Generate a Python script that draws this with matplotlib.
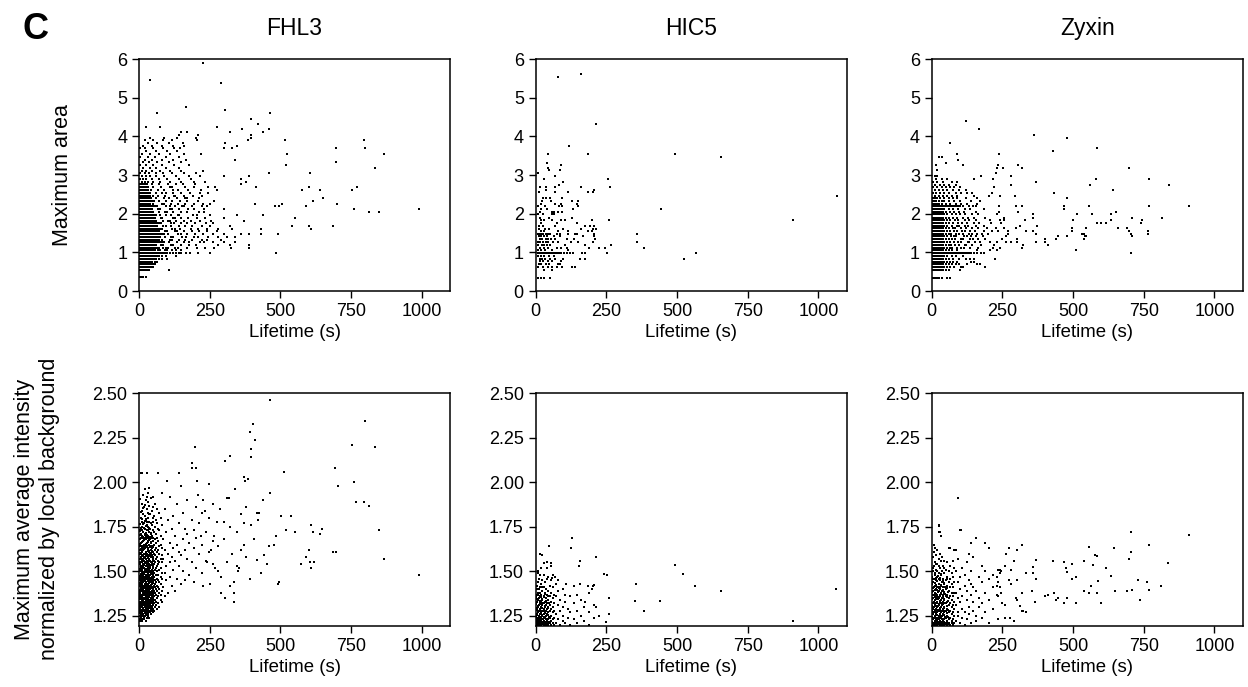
import matplotlib
matplotlib.use("Agg")
import matplotlib.pyplot as plt

plt.rcParams['font.family'] = ['Liberation Sans', 'DejaVu Sans']

proteins = ["FHL3", "HIC5", "Zyxin"]

# ---- top row: maximum area, one list of lifetimes (s) per area level ----
fhl3_area_levels = [0.35, 0.55, 0.62, 0.69, 0.76, 0.83, 0.90, 0.98, 1.05, 1.12, 1.19, 1.26, 1.33, 1.40,
                    1.47, 1.54, 1.61, 1.68, 1.75, 1.82, 1.90, 1.97, 2.05, 2.12, 2.19, 2.26, 2.33, 2.40,
                    2.47, 2.54, 2.61, 2.69, 2.76, 2.83, 2.90, 2.97, 3.04, 3.11, 3.19, 3.26, 3.33, 3.40,
                    3.47, 3.54, 3.61, 3.69, 3.76, 3.82, 3.90, 3.97, 4.04, 4.11, 4.18, 4.25, 4.32, 4.46,
                    4.61, 4.68, 4.75, 5.39, 5.46, 5.89]
fhl3_area_rows = [
    [5, 10, 15, 25],
    [5, 10, 15, 20, 25, 30, 35, 105],
    [5, 10, 15, 20, 25, 30, 35, 40, 45, 50],
    [5, 10, 15, 20, 25, 30, 35, 40, 45, 50, 55],
    [5, 10, 15, 20, 25, 30, 35, 40, 45, 55, 65],
    [5, 10, 15, 20, 25, 30, 35, 40, 45, 50, 55, 60, 70, 80, 100],
    [5, 10, 15, 20, 25, 30, 35, 40, 45, 50, 55, 60, 65, 70, 80, 95, 130],
    [5, 10, 15, 20, 25, 30, 35, 40, 45, 50, 55, 60, 65, 70, 75, 80, 85, 90, 95, 100, 110, 120, 130,
     140, 150, 165, 180, 210, 250, 485],
    [5, 10, 15, 20, 25, 30, 35, 40, 45, 50, 55, 68, 74, 91, 99, 118, 131, 150],
    [5, 10, 15, 20, 25, 30, 35, 40, 45, 50, 55, 60, 65, 70, 86, 97, 104, 126, 139, 168, 205, 235, 265,
     325, 390],
    [5, 10, 15, 20, 25, 30, 35, 40, 45, 50, 55, 60, 79, 84, 112, 121, 149, 178, 200, 280, 320, 390],
    [5, 10, 15, 20, 25, 30, 35, 40, 45, 50, 55, 60, 65, 70, 75, 80, 88, 107, 133, 160, 176, 214, 230,
     260, 300, 340],
    [5, 10, 15, 20, 25, 30, 35, 40, 45, 50, 55, 60, 65, 70, 81, 109, 116, 143, 162, 189, 221, 240, 290],
    [5, 10, 15, 20, 25, 30, 35, 40, 45, 50, 55, 60, 65, 70, 75, 93, 112, 121, 152, 166, 193, 208, 245,
     280, 310, 340],
    [5, 10, 15, 20, 25, 30, 35, 40, 45, 50, 55, 60, 65, 70, 75, 80, 89, 104, 137, 149, 171, 199, 225,
     260, 300, 360, 390, 430, 490],
    [5, 10, 15, 20, 25, 30, 35, 40, 45, 50, 55, 60, 65, 70, 91, 98, 127, 133, 158, 187, 212, 242, 275],
    [5, 10, 15, 20, 25, 30, 35, 40, 45, 50, 55, 60, 65, 70, 75, 83, 117, 128, 146, 183, 209, 239, 280,
     330, 430, 608],
    [5, 10, 15, 20, 25, 30, 35, 40, 45, 50, 55, 60, 65, 86, 94, 113, 141, 163, 188, 224, 250, 320, 540,
     600, 685],
    [5, 10, 15, 20, 25, 30, 35, 40, 45, 50, 55, 60, 65, 70, 79, 112, 124, 147, 171, 197, 236, 260],
    [5, 10, 15, 20, 25, 30, 35, 40, 45, 50, 55, 60, 84, 101, 109, 131, 158, 183, 214, 255, 370],
    [5, 10, 15, 20, 25, 30, 35, 40, 45, 50, 55, 77, 83, 119, 127, 149, 172, 204, 233, 300, 550],
    [5, 10, 15, 20, 25, 30, 35, 40, 45, 50, 55, 60, 73, 96, 114, 137, 143, 191, 206, 250, 345, 440],
    [5, 10, 15, 20, 25, 30, 35, 40, 45, 50, 72, 92, 98, 121, 149, 168, 212, 230, 815, 850],
    [5, 10, 15, 20, 25, 30, 35, 40, 45, 67, 73, 109, 118, 143, 172, 196, 231, 300, 760, 990],
    [5, 10, 15, 20, 25, 30, 35, 40, 45, 50, 55, 63, 97, 108, 127, 152, 159, 188, 222, 240, 480, 495,
     590],
    [5, 10, 15, 20, 25, 30, 35, 40, 48, 82, 89, 113, 137, 161, 196, 228, 250, 410, 505, 700],
    [5, 10, 15, 20, 25, 30, 35, 40, 45, 53, 72, 97, 117, 146, 171, 207, 265, 615],
    [5, 10, 15, 20, 25, 30, 35, 43, 61, 88, 107, 134, 163, 171, 211, 650],
    [5, 10, 15, 20, 25, 30, 35, 40, 48, 67, 92, 122, 129, 158, 191, 224],
    [5, 10, 15, 20, 25, 30, 38, 59, 83, 94, 121, 148, 181, 217, 245],
    [5, 10, 15, 20, 25, 30, 43, 66, 87, 121, 139, 173, 218, 275, 575, 640, 755],
    [5, 10, 15, 20, 25, 33, 51, 77, 108, 117, 162, 196, 243, 270, 415, 600, 770],
    [5, 10, 15, 20, 28, 47, 71, 103, 132, 154, 197, 360],
    [10, 20, 30, 50, 75, 110, 150, 195, 235, 380],
    [5, 15, 25, 45, 70, 100, 140, 185, 360],
    [10, 25, 40, 60, 90, 130, 175, 215, 300, 390],
    [5, 20, 35, 60, 85, 115, 160, 200, 460, 605],
    [10, 25, 45, 75, 110, 150, 225],
    [15, 40, 60, 95, 140, 835],
    [5, 25, 50, 80, 125, 175, 520],
    [15, 35, 65, 105, 150, 695],
    [20, 45, 80, 120, 165, 340],
    [5, 30, 55, 95, 140],
    [10, 40, 70, 110, 160, 220, 525, 867],
    [25, 60, 100, 135],
    [5, 20, 50, 85, 125, 145, 300, 330, 695, 800],
    [15, 45, 80, 120, 160, 345],
    [30, 65, 105, 155, 305],
    [20, 50, 85, 115, 205, 385, 515, 795],
    [40, 90, 135, 200, 395],
    [140, 210, 395],
    [150, 170, 320, 440],
    [365, 460],
    [25, 75, 275],
    [420],
    [395],
    [65, 465],
    [305],
    [165],
    [290],
    [40],
    [225],
]

hic5_area_levels = [0.34, 0.55, 0.62, 0.70, 0.77, 0.84, 0.91, 0.98, 1.05, 1.12, 1.20, 1.27, 1.34, 1.41,
                    1.48, 1.55, 1.61, 1.69, 1.76, 1.83, 1.90, 1.98, 2.05, 2.12, 2.19, 2.26, 2.33, 2.40,
                    2.47, 2.55, 2.62, 2.69, 2.75, 2.83, 2.90, 2.97, 3.04, 3.12, 3.19, 3.26, 3.32, 3.47,
                    3.54, 3.75, 4.32, 5.54, 5.60]
hic5_area_rows = [
    [9, 19, 31, 52],
    [31, 59],
    [9, 27, 43, 57, 74, 93, 130, 139],
    [12, 20, 35, 47, 78, 86],
    [15, 25, 43, 57, 90],
    [15, 22, 33, 50, 69, 95, 157, 175, 524],
    [7, 20, 30, 47, 64],
    [7, 12, 17, 22, 27, 32, 37, 42, 47, 52, 57, 62, 67, 72, 77, 82, 90, 100, 110, 120, 131, 163, 175,
     252, 567],
    [9, 20, 33, 59, 116],
    [15, 30, 45, 77, 90, 110, 190, 225, 246, 385],
    [7, 21, 30, 40, 51, 105, 175, 265],
    [9, 15, 27, 35, 45, 60, 80, 125, 149, 203, 357],
    [14, 22, 35, 45, 53, 70, 112, 136, 210],
    [13, 20, 31, 40, 64, 85, 168, 206],
    [9, 15, 20, 27, 38, 45, 51, 74, 86, 116, 139, 148, 206, 357],
    [19, 30, 80, 115, 184, 199],
    [12, 32, 46, 98, 162, 204, 215],
    [11, 27, 70, 176, 191, 207],
    [20, 77, 148],
    [18, 31, 57, 90, 104, 200, 260, 912],
    [15, 46, 130],
    [8, 27, 57, 66],
    [17, 57, 66, 80, 93],
    [19, 39, 131, 442],
    [7, 32, 83, 93, 150],
    [18, 67, 89, 145],
    [21, 56, 128, 150],
    [27, 38, 52, 93],
    [1065],
    [12, 69, 113, 186, 202],
    [38, 207],
    [14, 37, 69, 160, 262],
    [84],
    [97],
    [30, 255],
    [70],
    [9],
    [47, 87],
    [45],
    [91],
    [40],
    [656],
    [45, 186, 494],
    [118],
    [214],
    [79],
    [160],
]

zyxin_area_levels = [0.34, 0.55, 0.62, 0.69, 0.76, 0.83, 0.90, 0.98, 1.05, 1.12, 1.20, 1.27, 1.34, 1.41,
                     1.48, 1.55, 1.62, 1.69, 1.76, 1.83, 1.90, 1.98, 2.05, 2.12, 2.19, 2.26, 2.33, 2.40,
                     2.47, 2.54, 2.61, 2.69, 2.75, 2.82, 2.90, 2.97, 3.04, 3.12, 3.19, 3.26, 3.32, 3.40,
                     3.47, 3.54, 3.61, 3.69, 3.83, 3.96, 4.04, 4.18, 4.40]
zyxin_area_rows = [
    [5, 10, 15, 20, 25, 35, 55, 65],
    [5, 10, 15, 20, 25, 30, 35, 40, 50, 60, 100],
    [5, 10, 15, 20, 25, 30, 35, 40, 45, 55, 65, 80, 105, 110, 190],
    [5, 10, 15, 20, 25, 30, 35, 40, 50, 60, 70, 85, 95, 125, 160, 170],
    [5, 10, 15, 20, 25, 30, 35, 40, 45, 55, 65, 75, 90, 140, 150],
    [5, 10, 15, 20, 25, 30, 35, 40, 50, 60, 75, 95, 120, 135, 150, 225],
    [5, 10, 15, 20, 25, 30, 35, 40, 45, 55, 70, 85, 110],
    [5, 10, 15, 20, 25, 30, 35, 40, 45, 50, 55, 60, 65, 70, 75, 80, 85, 90, 95, 100, 105, 110, 115,
     120, 125, 130, 140, 150, 160, 175, 185, 706],
    [5, 10, 15, 20, 25, 30, 35, 40, 50, 60, 70, 90, 160, 205, 229, 510],
    [5, 10, 15, 20, 25, 30, 35, 40, 45, 55, 66, 73, 88, 102, 113, 134, 165, 215, 241, 320],
    [5, 10, 15, 20, 25, 30, 35, 40, 50, 61, 68, 83, 96, 117, 122, 143, 175, 220, 321, 412],
    [5, 10, 15, 20, 25, 30, 35, 40, 45, 55, 64, 77, 92, 104, 127, 131, 152, 170, 205, 230, 262, 280,
     301, 370, 402],
    [5, 10, 15, 20, 25, 30, 35, 40, 50, 60, 72, 81, 103, 112, 136, 147, 163, 190, 250, 302, 402, 438,
     537],
    [5, 10, 15, 20, 25, 30, 35, 40, 45, 55, 67, 78, 87, 114, 123, 138, 158, 180, 264, 447, 479, 543,
     547, 709],
    [5, 10, 15, 20, 25, 30, 35, 40, 50, 60, 69, 84, 98, 111, 133, 142, 161, 176, 198, 268, 369, 533,
     540, 706, 764],
    [5, 10, 15, 20, 25, 30, 35, 40, 45, 55, 63, 79, 91, 107, 119, 137, 154, 185, 213, 235, 268, 335,
     359, 497, 697, 764],
    [5, 10, 15, 20, 25, 30, 35, 40, 50, 60, 74, 82, 104, 121, 143, 162, 196, 226, 257, 298, 497, 546,
     660, 689],
    [5, 10, 15, 20, 25, 30, 35, 40, 45, 55, 71, 88, 97, 116, 128, 157, 186, 312, 373],
    [5, 10, 15, 20, 25, 30, 35, 40, 50, 60, 76, 93, 108, 126, 148, 168, 210, 246, 586, 598, 617, 741],
    [5, 10, 15, 20, 25, 30, 35, 40, 45, 55, 65, 81, 94, 117, 132, 156, 205, 241, 254, 331, 499, 633,
     742],
    [5, 10, 15, 20, 25, 30, 35, 40, 50, 60, 74, 89, 112, 128, 151, 190, 257, 357, 707, 814],
    [5, 10, 15, 20, 25, 30, 35, 45, 55, 71, 86, 101, 118, 141, 163, 230, 358, 513, 566, 634],
    [5, 10, 15, 20, 25, 30, 35, 40, 50, 66, 79, 96, 114, 155, 237, 305, 652],
    [5, 10, 15, 20, 25, 30, 35, 45, 60, 76, 94, 116, 136, 185, 467],
    [5, 10, 15, 20, 25, 30, 35, 40, 45, 50, 55, 60, 65, 70, 75, 80, 85, 90, 95, 100, 110, 130, 145,
     158, 238, 299, 318, 468, 557, 768, 911],
    [5, 10, 15, 20, 25, 35, 50, 65, 85, 105, 125, 160],
    [5, 10, 15, 25, 35, 45, 60, 80, 100, 140, 170],
    [5, 10, 20, 30, 45, 60, 75, 90, 120, 160, 478],
    [10, 25, 40, 55, 70, 90, 150, 202, 240, 296],
    [5, 15, 30, 45, 60, 85, 105, 125, 144, 213, 433],
    [10, 25, 40, 55, 75, 95, 120, 642],
    [5, 20, 35, 50, 65, 80, 100, 220],
    [10, 30, 45, 60, 85, 281, 558, 840],
    [5, 20, 40, 70, 90, 370],
    [15, 35, 55, 150, 215, 581, 769],
    [12, 17, 175, 280],
    [227],
    [17],
    [229, 253, 320, 697],
    [15, 110, 235, 304],
    [50],
    [94],
    [25, 36],
    [89, 237],
    [430],
    [586],
    [64],
    [478],
    [363],
    [167],
    [120],
]

# ---- bottom row: normalized intensity, one list of values per lifetime column ----
fhl3_int_t = [3, 6, 9, 12, 15, 18, 21, 24, 27, 30, 33, 36, 39, 42, 45, 48, 51, 54, 57, 60, 64, 68, 72,
              76, 80, 86, 91, 97, 102, 108, 115, 121, 128, 134, 141, 148, 156, 163, 171, 178, 186, 194,
              203, 212, 224, 236, 248, 263, 281]
fhl3_int_cols = [
    [1.22, 1.25, 1.29, 1.30, 1.33, 1.37, 1.38, 1.42, 1.45, 1.46, 1.50, 1.54, 1.57, 1.62, 1.68, 1.73],
    [1.24, 1.26, 1.28, 1.32, 1.35, 1.36, 1.40, 1.41, 1.44, 1.48, 1.51, 1.53, 1.58, 1.60, 1.66, 1.71, 1.80, 2.05],
    [1.23, 1.27, 1.31, 1.33, 1.34, 1.39, 1.43, 1.44, 1.47, 1.49, 1.52, 1.56, 1.59, 1.64, 1.69, 1.78, 1.84],
    [1.22, 1.25, 1.28, 1.30, 1.36, 1.37, 1.41, 1.42, 1.46, 1.50, 1.51, 1.55, 1.61, 1.63, 1.70, 1.75, 1.88, 2.05],
    [1.26, 1.29, 1.31, 1.34, 1.35, 1.38, 1.40, 1.44, 1.45, 1.48, 1.53, 1.54, 1.57, 1.62, 1.67, 1.72, 1.82, 1.93],
    [1.23, 1.24, 1.28, 1.32, 1.33, 1.37, 1.39, 1.42, 1.47, 1.49, 1.52, 1.56, 1.60, 1.65, 1.69, 1.77, 1.86],
    [1.25, 1.27, 1.30, 1.31, 1.35, 1.38, 1.41, 1.43, 1.45, 1.50, 1.51, 1.55, 1.58, 1.63, 1.71, 1.74, 1.81, 1.96],
    [1.22, 1.26, 1.29, 1.33, 1.34, 1.36, 1.40, 1.44, 1.46, 1.48, 1.53, 1.57, 1.61, 1.64, 1.68, 1.79, 1.90],
    [1.24, 1.28, 1.30, 1.32, 1.37, 1.39, 1.42, 1.43, 1.47, 1.51, 1.54, 1.56, 1.60, 1.66, 1.73, 1.76, 1.85, 2.05],
    [1.25, 1.27, 1.31, 1.34, 1.36, 1.38, 1.41, 1.45, 1.49, 1.50, 1.52, 1.58, 1.62, 1.67, 1.70, 1.83, 1.94],
    [1.26, 1.29, 1.33, 1.35, 1.37, 1.40, 1.43, 1.46, 1.48, 1.53, 1.55, 1.59, 1.63, 1.69, 1.75, 1.80, 1.89],
    [1.24, 1.28, 1.30, 1.32, 1.36, 1.39, 1.42, 1.44, 1.47, 1.50, 1.54, 1.57, 1.61, 1.65, 1.72, 1.78, 1.87, 1.97],
    [1.27, 1.31, 1.34, 1.38, 1.40, 1.41, 1.45, 1.48, 1.52, 1.53, 1.56, 1.60, 1.64, 1.68, 1.74, 1.82],
    [1.26, 1.29, 1.33, 1.35, 1.37, 1.42, 1.44, 1.46, 1.50, 1.55, 1.58, 1.62, 1.66, 1.71, 1.77, 1.91],
    [1.28, 1.30, 1.32, 1.36, 1.39, 1.43, 1.47, 1.49, 1.51, 1.54, 1.59, 1.63, 1.70, 1.76, 1.84],
    [1.27, 1.31, 1.34, 1.38, 1.41, 1.45, 1.48, 1.52, 1.56, 1.57, 1.61, 1.67, 1.73, 1.80, 1.92],
    [1.29, 1.33, 1.35, 1.37, 1.40, 1.44, 1.46, 1.50, 1.53, 1.58, 1.64, 1.69, 1.78, 1.86],
    [1.28, 1.32, 1.36, 1.39, 1.42, 1.47, 1.49, 1.54, 1.56, 1.60, 1.65, 1.72, 1.81],
    [1.30, 1.34, 1.38, 1.41, 1.43, 1.45, 1.51, 1.55, 1.59, 1.62, 1.68, 1.75, 1.88],
    [1.31, 1.33, 1.37, 1.40, 1.44, 1.48, 1.52, 1.57, 1.63, 1.66, 1.71, 1.79],
    [1.29, 1.35, 1.39, 1.42, 1.46, 1.50, 1.53, 1.58, 1.61, 1.69, 1.77, 1.85],
    [1.32, 1.36, 1.41, 1.45, 1.48, 1.54, 1.56, 1.62, 1.67, 1.74],
    [1.30, 1.38, 1.40, 1.44, 1.51, 1.55, 1.60, 1.64, 1.73, 1.83],
    [1.34, 1.37, 1.43, 1.47, 1.52, 1.57, 1.65, 1.70, 1.80],
    [1.33, 1.39, 1.46, 1.49, 1.55, 1.59, 1.63, 1.76, 1.94],
    [1.41, 1.57, 1.68],
    [1.36, 1.49, 1.62, 1.85],
    [1.45, 1.53, 1.72],
    [1.38, 1.60, 1.79],
    [1.47, 1.55, 1.66, 1.92],
    [1.42, 1.58, 1.74],
    [1.51, 1.63, 1.81],
    [1.39, 1.56, 1.70],
    [1.46, 1.65, 1.88],
    [1.53, 1.61, 1.77],
    [1.43, 1.59, 1.98],
    [1.50, 1.68, 1.83],
    [1.45, 1.62, 1.74],
    [1.57, 1.71, 1.90],
    [1.48, 1.66],
    [1.55, 1.79, 2.08],
    [1.44, 1.63, 1.73],
    [1.52, 1.69, 1.86],
    [1.60, 1.77],
    [1.49, 1.65, 1.83],
    [1.56, 1.72],
    [1.61, 1.80],
    [1.54, 1.67],
    [1.50, 1.64],
]
# second set of tracks in the crowded short-lifetime core
fhl3_core_t = [2, 5, 8, 11, 14, 17, 20, 23, 26, 29, 32, 35, 38, 41, 44, 47, 50]
fhl3_core_cols = [
    [1.235, 1.275, 1.315, 1.355, 1.395, 1.435, 1.475, 1.515, 1.555, 1.605, 1.655, 1.725, 1.905],
    [1.225, 1.265, 1.305, 1.345, 1.385, 1.425, 1.465, 1.505, 1.545, 1.595, 1.645, 1.705, 1.765],
    [1.245, 1.285, 1.325, 1.365, 1.405, 1.445, 1.485, 1.525, 1.575, 1.625, 1.685, 1.745, 1.835],
    [1.235, 1.275, 1.315, 1.355, 1.395, 1.435, 1.475, 1.525, 1.565, 1.615, 1.665, 1.735, 1.795],
    [1.255, 1.295, 1.335, 1.375, 1.415, 1.455, 1.495, 1.535, 1.585, 1.635, 1.695, 1.765, 1.855],
    [1.245, 1.285, 1.325, 1.365, 1.405, 1.445, 1.485, 1.535, 1.575, 1.625, 1.675, 1.745],
    [1.265, 1.305, 1.345, 1.385, 1.425, 1.465, 1.505, 1.545, 1.595, 1.645, 1.705, 1.785, 1.875],
    [1.255, 1.295, 1.335, 1.375, 1.415, 1.455, 1.495, 1.545, 1.585, 1.635, 1.695, 1.755],
    [1.275, 1.315, 1.355, 1.395, 1.435, 1.475, 1.515, 1.555, 1.605, 1.655, 1.715, 1.795],
    [1.265, 1.305, 1.345, 1.385, 1.425, 1.465, 1.505, 1.555, 1.595, 1.645, 1.705, 1.775, 1.915],
    [1.285, 1.325, 1.365, 1.405, 1.445, 1.485, 1.525, 1.575, 1.615, 1.665, 1.735],
    [1.275, 1.315, 1.355, 1.395, 1.435, 1.475, 1.515, 1.565, 1.615, 1.675, 1.745, 1.825],
    [1.295, 1.335, 1.375, 1.415, 1.455, 1.495, 1.535, 1.585, 1.635, 1.695],
    [1.285, 1.325, 1.365, 1.405, 1.445, 1.485, 1.535, 1.585, 1.645, 1.715],
    [1.305, 1.345, 1.385, 1.425, 1.465, 1.505, 1.555, 1.605, 1.665],
    [1.295, 1.335, 1.375, 1.415, 1.455, 1.505, 1.555, 1.615, 1.685],
    [1.315, 1.355, 1.395, 1.435, 1.475, 1.525, 1.575, 1.635],
]
fhl3_int_extra_t = [465, 800, 403, 393, 410, 397, 755, 834, 198, 395, 322, 304, 189, 203, 693, 514, 140,
                    67, 759, 370, 375, 384, 702, 98, 246, 206, 338, 463, 312, 318, 440, 768, 797, 814,
                    377, 418, 425, 503, 539, 422, 608, 648, 552, 614, 640, 849, 521, 485, 685, 696, 601,
                    591, 574, 603, 619, 608, 868, 992, 494, 490, 453, 431, 391, 337, 337, 337, 303, 289,
                    441, 417, 460, 478, 255, 265, 275, 285, 300, 310, 320, 330, 345, 355, 360, 370, 380,
                    395, 405, 250, 270, 290, 320, 350, 360, 225, 235, 260, 240, 220, 228, 210, 300, 345,
                    370]
fhl3_int_extra = [2.465, 2.345, 2.33, 2.28, 2.24, 2.19, 2.21, 2.20, 2.20, 2.14, 2.15, 2.12, 2.11, 2.08,
                  2.08, 2.06, 2.05, 2.05, 2.00, 2.03, 2.01, 2.02, 1.98, 2.01, 1.99, 2.01, 1.96, 1.94,
                  1.91, 1.91, 1.90, 1.89, 1.89, 1.87, 1.86, 1.83, 1.83, 1.81, 1.81, 1.79, 1.76, 1.74,
                  1.72, 1.72, 1.71, 1.73, 1.73, 1.70, 1.61, 1.61, 1.62, 1.58, 1.54, 1.55, 1.55, 1.52,
                  1.57, 1.48, 1.44, 1.43, 1.54, 1.49, 1.46, 1.44, 1.38, 1.33, 1.35, 1.38, 1.59, 1.565,
                  1.64, 1.65, 1.62, 1.70, 1.78, 1.85, 1.68, 1.55, 1.75, 1.60, 1.72, 1.52, 1.82, 1.65,
                  1.58, 1.76, 1.68, 1.43, 1.52, 1.47, 1.42, 1.50, 1.62, 1.90, 1.84, 1.88, 1.55, 1.70,
                  1.42, 1.93, 1.78, 1.53, 1.77]

hic5_int_t = [4, 8, 12, 16, 20, 24, 28, 32, 36, 40, 45, 50, 55, 60, 65, 72, 79, 87, 96, 104, 113, 123,
              134, 146, 159, 172, 188, 205]
hic5_int_cols = [
    [1.20, 1.23, 1.26, 1.29, 1.33, 1.37, 1.42],
    [1.21, 1.24, 1.27, 1.30, 1.34, 1.38, 1.44, 1.50],
    [1.20, 1.22, 1.25, 1.28, 1.31, 1.35, 1.40, 1.46],
    [1.21, 1.23, 1.26, 1.29, 1.32, 1.36, 1.41],
    [1.20, 1.22, 1.24, 1.27, 1.30, 1.33, 1.37, 1.43, 1.52],
    [1.21, 1.23, 1.25, 1.28, 1.31, 1.34, 1.39, 1.45],
    [1.20, 1.22, 1.26, 1.29, 1.32, 1.36, 1.41, 1.48],
    [1.21, 1.24, 1.27, 1.30, 1.33, 1.38, 1.44],
    [1.20, 1.23, 1.25, 1.28, 1.31, 1.35, 1.40],
    [1.21, 1.22, 1.26, 1.29, 1.32, 1.37, 1.46, 1.52],
    [1.20, 1.23, 1.27, 1.30, 1.34, 1.39, 1.47],
    [1.21, 1.24, 1.28, 1.31, 1.36, 1.42],
    [1.20, 1.22, 1.25, 1.29, 1.33, 1.38, 1.45],
    [1.21, 1.23, 1.27, 1.30, 1.35, 1.41, 1.48],
    [1.20, 1.24, 1.28, 1.32, 1.37],
    [1.21, 1.26, 1.36, 1.43],
    [1.23, 1.31, 1.39],
    [1.20, 1.28, 1.34],
    [1.22, 1.25, 1.30, 1.40],
    [1.21, 1.33, 1.37],
    [1.24, 1.29],
    [1.20, 1.27, 1.36],
    [1.23, 1.32],
    [1.21, 1.28],
    [1.25, 1.34],
    [1.22, 1.30],
    [1.20, 1.27],
    [1.24, 1.31],
]
hic5_core_t = [2, 6, 10, 14, 18, 22, 26, 30, 34, 38, 43, 48]
hic5_core_cols = [
    [1.205, 1.245, 1.285, 1.315, 1.355],
    [1.215, 1.225, 1.255, 1.295, 1.345, 1.40],
    [1.205, 1.235, 1.275, 1.305, 1.365],
    [1.215, 1.245, 1.285, 1.335, 1.38],
    [1.205, 1.225, 1.265, 1.315, 1.355],
    [1.215, 1.255, 1.295, 1.345, 1.41],
    [1.205, 1.235, 1.275, 1.325],
    [1.215, 1.245, 1.285, 1.355],
    [1.205, 1.265, 1.305, 1.375],
    [1.215, 1.235, 1.275, 1.335],
    [1.205, 1.255, 1.295, 1.36],
    [1.215, 1.245, 1.325],
]
hic5_int_extra_t = [130, 46, 125, 15, 24, 212, 157, 154, 40, 29, 56, 56, 492, 7, 15, 253, 242, 521, 69,
                    57, 11, 78, 565, 355, 109, 137, 156, 184, 204, 206, 201, 654, 1063, 260, 353, 440,
                    383, 911, 249, 259, 190, 175, 145, 215, 225]
hic5_int_extra = [1.69, 1.64, 1.63, 1.60, 1.59, 1.58, 1.56, 1.53, 1.55, 1.545, 1.545, 1.53, 1.535, 1.49,
                  1.48, 1.48, 1.485, 1.485, 1.47, 1.465, 1.46, 1.45, 1.42, 1.43, 1.43, 1.42, 1.43, 1.42,
                  1.42, 1.425, 1.40, 1.39, 1.40, 1.35, 1.335, 1.335, 1.276, 1.22, 1.215, 1.26, 1.38,
                  1.33, 1.37, 1.30, 1.25]

zyxin_int_t = [4, 8, 12, 16, 20, 24, 28, 32, 36, 40, 45, 50, 55, 60, 65, 70, 75, 80, 87, 93, 101, 108,
               116, 123, 131, 139, 147, 156, 166, 177, 189, 202, 216, 233]
zyxin_int_cols = [
    [1.20, 1.23, 1.26, 1.29, 1.32, 1.35, 1.39, 1.44, 1.50, 1.58],
    [1.21, 1.24, 1.27, 1.30, 1.33, 1.37, 1.41, 1.46, 1.53, 1.61, 1.65],
    [1.20, 1.22, 1.25, 1.28, 1.31, 1.34, 1.38, 1.42, 1.48, 1.55, 1.63],
    [1.21, 1.23, 1.26, 1.29, 1.32, 1.36, 1.40, 1.45, 1.51, 1.59],
    [1.20, 1.22, 1.24, 1.27, 1.30, 1.33, 1.37, 1.41, 1.47, 1.54, 1.62],
    [1.21, 1.23, 1.25, 1.28, 1.31, 1.35, 1.39, 1.43, 1.49, 1.57, 1.76],
    [1.20, 1.22, 1.26, 1.29, 1.32, 1.36, 1.40, 1.45, 1.52, 1.60, 1.72],
    [1.21, 1.24, 1.27, 1.30, 1.34, 1.38, 1.42, 1.48, 1.56, 1.70],
    [1.20, 1.23, 1.25, 1.28, 1.31, 1.35, 1.39, 1.44, 1.50, 1.58],
    [1.21, 1.22, 1.26, 1.29, 1.33, 1.37, 1.41, 1.46, 1.53],
    [1.20, 1.23, 1.27, 1.30, 1.34, 1.38, 1.43, 1.49, 1.56],
    [1.21, 1.24, 1.28, 1.32, 1.36, 1.40, 1.45, 1.51],
    [1.20, 1.22, 1.25, 1.29, 1.33, 1.37, 1.42, 1.47, 1.55],
    [1.21, 1.23, 1.27, 1.31, 1.35, 1.39, 1.44, 1.50, 1.63],
    [1.20, 1.24, 1.28, 1.32, 1.36, 1.41, 1.46, 1.53],
    [1.21, 1.22, 1.26, 1.30, 1.34, 1.38, 1.43, 1.49],
    [1.20, 1.23, 1.27, 1.31, 1.36, 1.41, 1.47, 1.56],
    [1.21, 1.25, 1.29, 1.33, 1.38, 1.44, 1.52, 1.62],
    [1.22, 1.31, 1.38, 1.50],
    [1.25, 1.27, 1.35, 1.44, 1.57, 1.91],
    [1.21, 1.33, 1.40, 1.47, 1.73],
    [1.24, 1.29, 1.36, 1.52],
    [1.20, 1.27, 1.42, 1.48],
    [1.23, 1.34, 1.39, 1.55],
    [1.26, 1.30, 1.45, 1.60],
    [1.21, 1.37, 1.43, 1.50, 1.66],
    [1.28, 1.33, 1.41, 1.58],
    [1.22, 1.25, 1.39, 1.69],
    [1.30, 1.35, 1.47],
    [1.24, 1.32, 1.44, 1.53],
    [1.27, 1.38, 1.50, 1.66],
    [1.21, 1.34, 1.46, 1.63],
    [1.29, 1.41, 1.48],
    [1.23, 1.36, 1.44, 1.51],
]
zyxin_core_t = [2, 6, 10, 14, 18, 22, 26, 30, 34, 38, 43, 48, 53, 58]
zyxin_core_cols = [
    [1.215, 1.245, 1.275, 1.305, 1.345, 1.385, 1.43, 1.47],
    [1.205, 1.235, 1.265, 1.295, 1.325, 1.365, 1.405, 1.455, 1.52],
    [1.215, 1.245, 1.285, 1.315, 1.355, 1.395, 1.435, 1.49],
    [1.205, 1.235, 1.265, 1.305, 1.345, 1.375, 1.425, 1.465, 1.54],
    [1.215, 1.255, 1.285, 1.325, 1.355, 1.395, 1.445, 1.50],
    [1.205, 1.235, 1.275, 1.305, 1.345, 1.385, 1.415, 1.475],
    [1.215, 1.245, 1.285, 1.315, 1.355, 1.405, 1.455, 1.53],
    [1.205, 1.255, 1.295, 1.335, 1.365, 1.415, 1.465],
    [1.215, 1.245, 1.275, 1.325, 1.375, 1.425, 1.485],
    [1.205, 1.235, 1.285, 1.315, 1.355, 1.395, 1.445],
    [1.215, 1.255, 1.295, 1.345, 1.385, 1.435, 1.52],
    [1.205, 1.245, 1.275, 1.325, 1.375, 1.415],
    [1.215, 1.265, 1.305, 1.355, 1.405, 1.46],
    [1.205, 1.245, 1.285, 1.335, 1.385],
]
zyxin_int_extra_t = [24, 26, 105, 705, 910, 64, 84, 273, 302, 318, 556, 646, 767, 579, 583, 705, 697,
                     836, 369, 357, 429, 467, 497, 537, 571, 616, 474, 477, 634, 729, 761, 767, 812, 648,
                     692, 709, 738, 600, 511, 540, 555, 565, 584, 589, 511, 497, 401, 412, 431, 441, 446,
                     467, 480, 356, 365, 369, 357, 334, 320, 297, 300, 311, 322, 332, 318, 280, 280, 258,
                     242, 246, 240, 232, 230, 240, 245, 232, 248, 260, 258, 276, 290, 262, 272, 290, 300]
zyxin_int_extra = [1.755, 1.72, 1.735, 1.72, 1.707, 1.63, 1.62, 1.63, 1.62, 1.65, 1.635, 1.63, 1.65,
                   1.59, 1.585, 1.61, 1.57, 1.545, 1.565, 1.525, 1.556, 1.55, 1.54, 1.556, 1.537, 1.52,
                   1.52, 1.496, 1.476, 1.453, 1.44, 1.397, 1.416, 1.39, 1.388, 1.397, 1.34, 1.32, 1.32,
                   1.39, 1.377, 1.418, 1.38, 1.446, 1.47, 1.46, 1.36, 1.37, 1.38, 1.34, 1.35, 1.32, 1.35,
                   1.39, 1.33, 1.46, 1.49, 1.49, 1.38, 1.35, 1.34, 1.305, 1.28, 1.27, 1.28, 1.51, 1.43,
                   1.53, 1.51, 1.50, 1.49, 1.47, 1.42, 1.41, 1.38, 1.37, 1.32, 1.31, 1.24, 1.24, 1.22,
                   1.60, 1.45, 1.56, 1.45]


def rows_to_points(levels, rows):
    xs, ys = [], []
    for lev, row in zip(levels, rows):
        for t in row:
            xs.append(t)
            ys.append(lev)
    return xs, ys


def cols_to_points(times, cols, core_t, core_cols, extra_t, extra_v):
    xs, ys = [], []
    for t, col in list(zip(times, cols)) + list(zip(core_t, core_cols)):
        for v in col:
            xs.append(t)
            ys.append(v)
    return xs + extra_t, ys + extra_v


top_data = [rows_to_points(fhl3_area_levels, fhl3_area_rows),
            rows_to_points(hic5_area_levels, hic5_area_rows),
            rows_to_points(zyxin_area_levels, zyxin_area_rows)]
bottom_data = [cols_to_points(fhl3_int_t, fhl3_int_cols, fhl3_core_t, fhl3_core_cols,
                              fhl3_int_extra_t, fhl3_int_extra),
               cols_to_points(hic5_int_t, hic5_int_cols, hic5_core_t, hic5_core_cols,
                              hic5_int_extra_t, hic5_int_extra),
               cols_to_points(zyxin_int_t, zyxin_int_cols, zyxin_core_t, zyxin_core_cols,
                              zyxin_int_extra_t, zyxin_int_extra)]

fig = plt.figure(figsize=(12.48, 6.87), dpi=100)
lefts = [0.1114, 0.4292, 0.7466]
w = 0.2492


def style(ax):
    ax.set_xlim(0, 1100)
    ax.set_xticks([0, 250, 500, 750, 1000])
    ax.set_xlabel("Lifetime (s)", fontsize=13.4, labelpad=3)
    ax.tick_params(labelsize=13, length=5, width=1)
    for s in ax.spines.values():
        s.set_linewidth(1.1)


for i in range(3):
    ax = fig.add_axes([lefts[i], 0.5764, w, 0.3377])
    x, y = top_data[i]
    ax.scatter(x, y, s=3, c='black', linewidths=0, marker='s')
    ax.set_ylim(0, 6)
    ax.set_yticks([0, 1, 2, 3, 4, 5, 6])
    ax.set_title(proteins[i], fontsize=16.5, pad=17)
    style(ax)

    ax = fig.add_axes([lefts[i], 0.0892, w, 0.3383])
    x, y = bottom_data[i]
    ax.scatter(x, y, s=3, c='black', linewidths=0, marker='s')
    ax.set_ylim(1.195, 2.5)
    ax.set_yticks([1.25, 1.5, 1.75, 2.0, 2.25, 2.5])
    ax.set_yticklabels(["1.25", "1.50", "1.75", "2.00", "2.25", "2.50"])
    style(ax)

fig.text(63 / 1248, 1 - 175 / 687, "Maximum area", fontsize=15.5, rotation=90,
         ha='center', va='center')
fig.text(37 / 1248, 1 - 509 / 687, "Maximum average intensity\nnormalized by local background",
         fontsize=15.5, rotation=90, ha='center', va='center', multialignment='center')
fig.text(22 / 1248, 1 - 39 / 687, "C", fontsize=26, fontweight='bold', va='baseline')

fig.savefig("out.png", dpi=100)
